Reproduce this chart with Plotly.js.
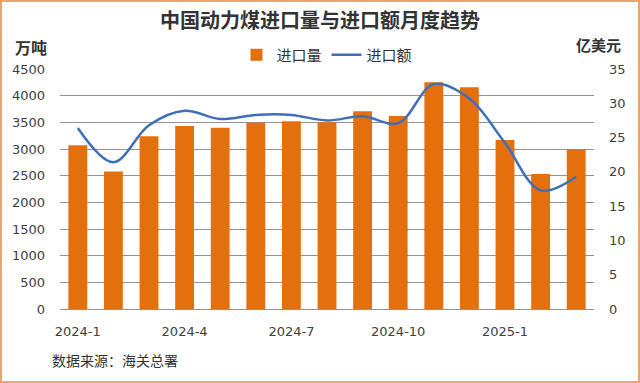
<!DOCTYPE html>
<html><head><meta charset="utf-8">
<script src="https://cdn.plot.ly/plotly-3.0.1.min.js"></script>
<style>
html,body{margin:0;padding:0;background:#fff;}
#wrap{position:relative;width:640px;height:383px;}
#chart{width:640px;height:383px;}
#frame{position:absolute;left:0;top:0;width:640px;height:383px;box-sizing:border-box;border:2px solid #EBA46C;pointer-events:none;}
</style></head>
<body>
<div id="wrap"><div id="chart"></div><div id="frame"></div></div>
<script>
const months = ["2024-1","2024-2","2024-3","2024-4","2024-5","2024-6","2024-7","2024-8","2024-9","2024-10","2024-11","2024-12","2025-1","2025-2","2025-3"];
const volume = [3070, 2580, 3240, 3430, 3400, 3490, 3520, 3500, 3710, 3620, 4250, 4160, 3170, 2530, 3000];
const value = [26.4, 21.4, 26.8, 28.9, 27.7, 28.3, 28.3, 27.5, 28.1, 27.1, 32.8, 30.7, 24.2, 17.3, 19.3];
const shownTicks = ["2024-1","2024-4","2024-7","2024-10","2025-1"];

const fontNum = "DejaVu Sans, sans-serif";
const fontCJK = "Noto Sans CJK SC, sans-serif";

const traces = [
  {type:"bar", name:"进口量", x:months, y:volume, marker:{color:"#E4700D"}, yaxis:"y", hoverinfo:"skip"},
  {type:"scatter", mode:"lines", name:"进口额", x:months, y:value, yaxis:"y2",
   line:{color:"#3F6FB7", width:2.5, shape:"spline", smoothing:1}, hoverinfo:"skip"}
];

const layout = {
  width:640, height:383,
  margin:{l:60, r:46, t:69, b:74},
  paper_bgcolor:"#ffffff", plot_bgcolor:"#ffffff",
  bargap:0.47,
  showlegend:true,
  legend:{orientation:"h", x:0.5, xanchor:"center", y:1.058, yanchor:"middle",
          font:{family:fontCJK, size:15, color:"#333333"}, itemwidth:30, bgcolor:"rgba(0,0,0,0)"},
  title:{text:"<b>中国动力煤进口量与进口额月度趋势</b>", x:0.5, xanchor:"center", y:0.945, yanchor:"middle",
         font:{family:fontCJK, size:20, color:"#333333"}},
  xaxis:{type:"category", tickmode:"array", tickvals:shownTicks, ticktext:shownTicks,
         tickfont:{family:fontNum, size:13, color:"#404040"}, showgrid:false, ticks:"",
         ticklabelstandoff:13, showline:false, zeroline:false},
  yaxis:{range:[0,4500], dtick:500, tickfont:{family:fontNum, size:13, color:"#404040"},
         gridcolor:"#939393", gridwidth:1, zeroline:true, zerolinecolor:"#939393", zerolinewidth:1,
         ticks:"", ticklabelstandoff:14, showline:false},
  yaxis2:{range:[0,35], dtick:5, overlaying:"y", side:"right", showgrid:false, zeroline:false,
          tickfont:{family:fontNum, size:13, color:"#404040"}, ticks:"", ticklabelstandoff:14, showline:false},
  annotations:[
    {text:"<b>万吨</b>", xref:"paper", yref:"paper", x:-0.054, y:1.092, xanchor:"center", yanchor:"middle", showarrow:false,
     font:{family:fontCJK, size:16, color:"#333333"}},
    {text:"<b>亿美元</b>", xref:"paper", yref:"paper", x:1.009, y:1.1, xanchor:"center", yanchor:"middle", showarrow:false,
     font:{family:fontCJK, size:15, color:"#333333"}},
    {text:"数据来源：海关总署", xref:"paper", yref:"paper", x:-0.019, y:-0.213, xanchor:"left", yanchor:"middle", showarrow:false,
     font:{family:fontCJK, size:14, color:"#333333"}}
  ]
};

Plotly.newPlot("chart", traces, layout, {displayModeBar:false, staticPlot:true});
</script>
</body></html>
